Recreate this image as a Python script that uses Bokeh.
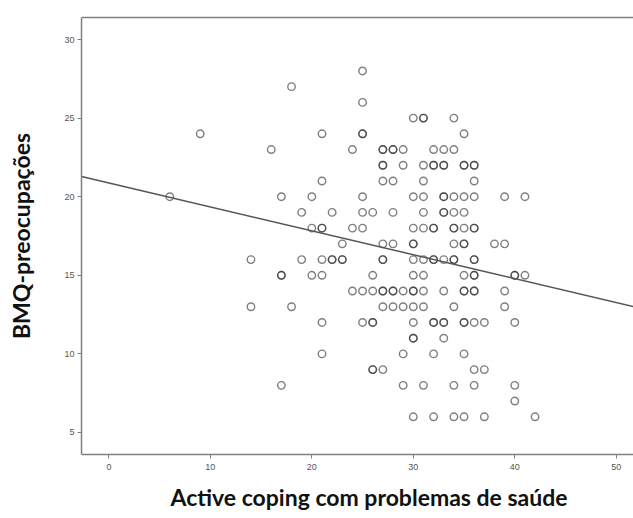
import math
from bokeh.plotting import figure
from bokeh.models import ColumnDataSource, LinearAxis, FixedTicker, Title, Range1d
from bokeh.embed import file_html
from bokeh.resources import INLINE

# Active coping com problemas de saúde (x) vs BMQ-preocupações (y)
coping = [
    25,
    18,
    25,
    30, 31, 31, 34,
    9, 21, 25, 25, 35,
    16, 24, 27, 27, 28, 28, 29, 32, 33, 34,
    27, 27, 29, 31, 32, 32, 33, 33, 35, 35, 36, 36,
    21, 27, 28, 31, 36,
    6, 17, 20, 25, 30, 31, 33, 33, 34, 35, 36, 39, 41,
    19, 22, 25, 26, 28, 31, 33, 33, 34, 35,
    20, 21, 21, 24, 25, 30, 31, 32, 32, 34, 34, 35, 36, 36,
    23, 27, 28, 30, 30, 34, 35, 35, 38, 39,
    14, 19, 21, 22, 22, 23, 23, 27, 27, 30, 31, 32, 32, 33, 34, 34, 36, 36,
    17, 17, 20, 21, 26, 30, 31, 35, 36, 36, 40, 40, 41,
    24, 25, 26, 27, 27, 28, 28, 29, 30, 30, 31, 33, 35, 35, 36, 36, 39,
    14, 18, 27, 28, 29, 30, 31, 34, 39,
    21, 25, 26, 26, 30, 32, 32, 33, 33, 35, 35, 36, 37, 40,
    30, 30, 33,
    21, 29, 32, 35,
    26, 26, 27, 36, 37,
    17, 29, 31, 34, 36, 40,
    40,
    30, 32, 34, 35, 37, 42,
]
preocupacoes = (
    [28] * 1 + [27] * 1 + [26] * 1 + [25] * 4 + [24] * 5 + [23] * 10 + [22] * 12
    + [21] * 5 + [20] * 13 + [19] * 10 + [18] * 14 + [17] * 10 + [16] * 18
    + [15] * 13 + [14] * 17 + [13] * 9 + [12] * 14 + [11] * 3 + [10] * 4
    + [9] * 5 + [8] * 6 + [7] * 1 + [6] * 6
)

x_ticks = [0, 10, 20, 30, 40, 50]
y_ticks = [5, 10, 15, 20, 25, 30]

# regression line
fit_intercept = 20.87
fit_slope = -0.152

x_lo, x_hi = -2.7, 51.7
y_lo, y_hi = 3.6, 31.4

p = figure(width=633, height=518, output_backend="svg", toolbar_location=None,
           x_range=Range1d(x_lo, x_hi), y_range=Range1d(y_lo, y_hi),
           min_border_left=81, min_border_right=0, min_border_top=17,
           min_border_bottom=62, x_axis_location=None, y_axis_location=None)
p.background_fill_color = "white"
p.border_fill_color = "white"
p.outline_line_color = None
p.xgrid.visible = False
p.ygrid.visible = False

axis_col = "#808080"

xa = LinearAxis(ticker=FixedTicker(ticks=x_ticks))
xa.major_label_text_font = "Liberation Sans"
xa.major_label_text_font_size = "9px"
xa.major_label_text_color = "#555555"
xa.major_label_standoff = 5
xa.axis_line_color = axis_col
xa.axis_line_width = 1.5
xa.major_tick_line_color = axis_col
xa.major_tick_out = 4
xa.major_tick_in = 0
xa.minor_tick_line_color = None
p.add_layout(xa, "below")

ya = LinearAxis(ticker=FixedTicker(ticks=y_ticks))
ya.axis_label = "BMQ-preocupações"
ya.axis_label_text_font = "Lato"
ya.axis_label_text_font_style = "bold"
ya.axis_label_text_font_size = "23px"
ya.axis_label_text_color = "#111111"
ya.axis_label_standoff = 26
ya.major_label_text_font = "Liberation Sans"
ya.major_label_text_font_size = "9px"
ya.major_label_text_color = "#555555"
ya.major_label_standoff = 3
ya.axis_line_color = axis_col
ya.axis_line_width = 1.5
ya.major_tick_line_color = axis_col
ya.major_tick_out = 4
ya.major_tick_in = 0
ya.minor_tick_line_color = None
p.add_layout(ya, "left")

ta = LinearAxis(ticker=FixedTicker(ticks=[]))
ta.major_label_text_font_size = "0px"
ta.axis_line_color = axis_col
ta.axis_line_width = 1.5
ta.major_tick_line_color = None
ta.minor_tick_line_color = None
p.add_layout(ta, "above")

xt = Title(text="Active coping com problemas de saúde", align="left",
           offset=89, standoff=16, text_font="Lato", text_font_style="bold",
           text_font_size="23px", text_color="#111111")
p.add_layout(xt, "below")

src = ColumnDataSource(dict(x=coping, y=preocupacoes))
p.scatter("x", "y", source=src, marker="circle", size=7.5,
          fill_color=None, line_color="#2a2a2a", line_alpha=0.6, line_width=1.4)

fx = [x_lo, x_hi]
fy = [fit_intercept + fit_slope * v for v in fx]
p.line(fx, fy, line_color="#555555", line_width=1.5)

open("out.html", "w").write(file_html(p, INLINE))
